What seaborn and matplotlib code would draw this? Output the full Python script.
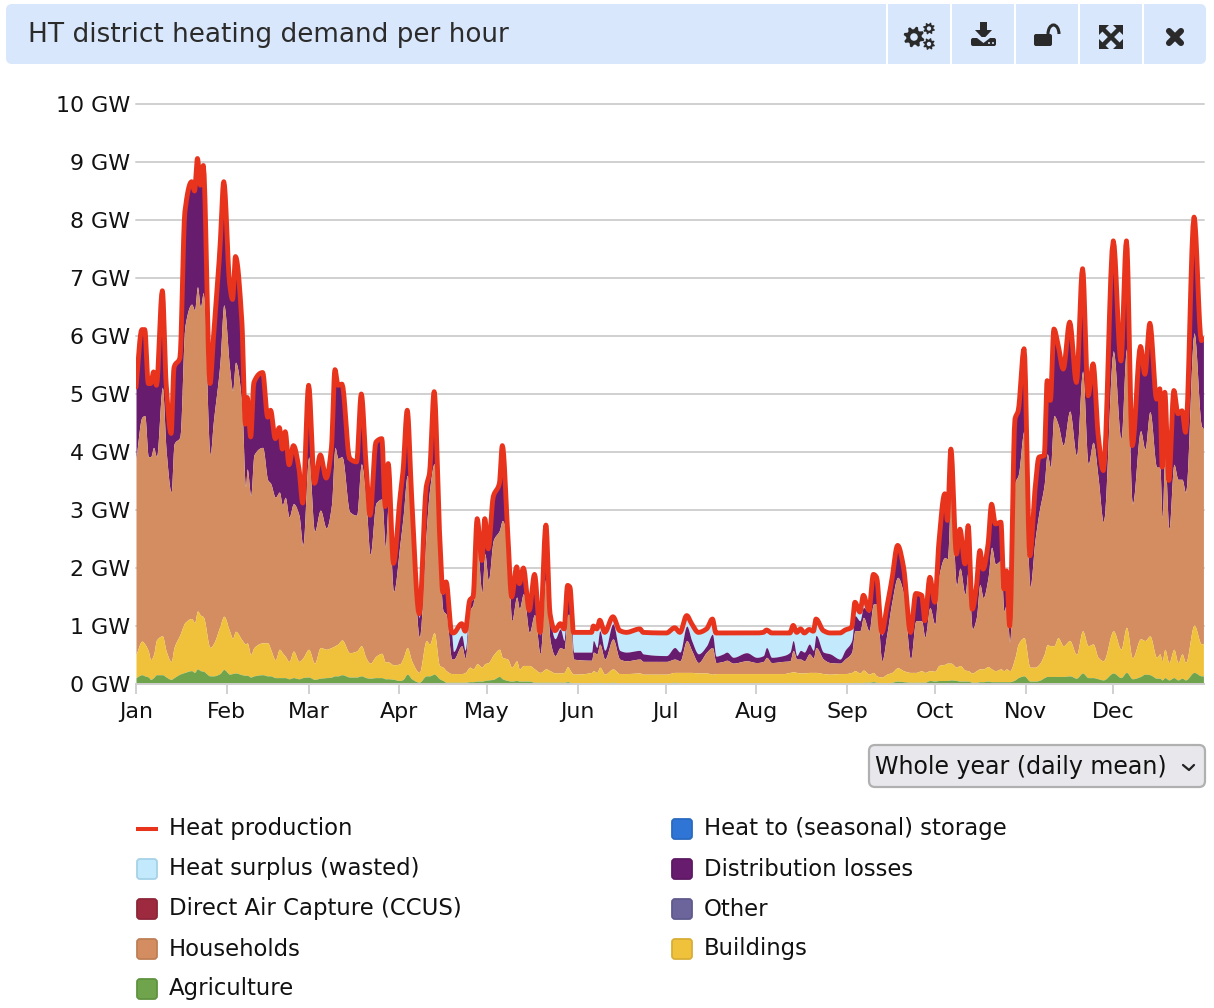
import numpy as np
import seaborn as sns
import matplotlib
matplotlib.use("Agg")
import matplotlib.pyplot as plt
from matplotlib.patches import FancyBboxPatch, Polygon, Rectangle, Circle, Arc

TITLE = "HT district heating demand per hour"
MONTHS = ["Jan", "Feb", "Mar", "Apr", "May", "Jun", "Jul", "Aug", "Sep", "Oct", "Nov", "Dec"]
MONTH_DAYS = [0, 31, 59, 90, 120, 151, 181, 212, 243, 273, 304, 334]
Y_TICKS = [0, 1, 2, 3, 4, 5, 6, 7, 8, 9, 10]

days = [
    0,2,3,4.2,5,6,7,9,10.3,12,
    13,15,16.7,19,20,21,22,23,25.3,26.4,
    28.7,30,32,33,34,36.2,37.4,38,39.2,40.3,
    43.3,45,46,47.6,49,50,51,52.3,53.8,55.7,
    57,59,61,63,65,66.8,68,69,70.4,73,
    75.4,77,78.6,80,82,84,85.2,86.2,88,90.2,
    91.3,
    92.7,94.2,96.8,99.2,100.3,101.9,103.7,104.9,106,107.9,
    108.5,111.3,112.5,114.1,115.2,116.6,118.2,119.2,120.4,122.1,
    124.2,125.2,127,128.4,130.1,131,132.4,134.4,136.2,138.1,
    140.1,141.5,143.2,145,146.3,147.5,148.3,149.5,155.7,156.3,
    157.5,158.5,160.2,163,165.3,167.6,172.2,173.3,181.3,184.1,
    185.9,
    188.2,189.9,192.2,195,197,198.2,200.7,201.9,204.1,208.7,
    212.1,214.4,215.5,217.2,221.2,223.5,224.6,225.8,227.1,228.4,
    230.1,231.5,232.4,234.9,237.2,240.6,242.3,244.6,245.7,247.4,
    248.6,250.5,252,253.1,254.9,256.6,258.3,260.3,262.3,264.7,
    266.5,268.5,269.6,
    271.3,273,274.4,276.4,277.3,278.5,280.4,281.6,283.3,284.4,
    285.8,287.2,288.4,289.5,291.2,292.4,293.7,295.6,296.6,297.5,
    298.6,300.4,301.5,303.5,305.5,307.2,308.6,310.4,311.4,312.5,
    313.7,315.1,316.9,319.1,321.4,323.5,325.4,327.1,328.8,330.6,
    334,336.6,338.5,340.5,343.3,344.8,346.5,348.8,349.9,350.7,
    351.6,353,354.7,356.1,357.5,358.7,361.6,364.1,364.8,
]

heat_production = [
    5.12,6.11,6.11,5.18,5.18,5.38,5.15,6.78,5.18,4.32,
    5.46,5.62,8.14,8.66,8.5,9.06,8.6,8.94,5.18,5.92,
    7.52,8.66,6.9,6.63,7.37,6.23,4.48,4.94,4.26,5.2,
    5.37,4.6,4.72,4.23,4.42,4.05,4.35,3.78,4.11,3.71,
    3.12,5.15,3.46,3.95,3.55,4.08,5.42,5.15,5.17,3.89,
    3.83,5.0,3.8,2.91,4.17,4.23,3.06,3.8,2.08,3.2,
    3.7,
    4.72,3.23,1.21,3.4,3.63,5.04,2.65,1.58,1.76,.89,
    .88,1.04,.91,1.45,1.5,2.85,2.13,2.85,2.33,3.23,
    3.46,4.11,2.65,1.5,2.02,1.73,2.0,1.27,1.89,.89,
    2.74,1.21,.92,1.04,.95,1.7,1.67,.89,.89,1.0,
    .95,1.1,.89,1.16,.92,.89,.95,.89,.88,.97,
    .89,
    1.18,1.04,.89,.95,1.12,.88,.88,.88,.88,.88,
    .88,.89,.93,.88,.88,.88,1.01,.89,.95,.88,
    .94,.91,1.12,.92,.88,.88,.93,.98,1.41,1.24,
    1.53,1.27,1.89,1.84,.89,1.32,1.79,2.39,2.02,.89,
    1.56,1.53,1.09,
    1.84,1.41,2.44,3.28,2.82,4.05,2.24,2.67,2.07,2.73,
    1.29,1.67,2.3,1.98,2.41,3.1,2.76,2.79,1.64,1.95,
    1.0,4.57,4.71,5.78,2.21,3.33,3.91,3.94,5.23,4.89,
    6.12,5.86,5.43,6.24,5.2,7.16,4.97,5.52,4.31,3.68,
    7.64,5.57,7.64,4.11,5.82,5.34,6.22,4.91,5.09,3.74,
    5.03,3.51,5.06,4.66,4.71,4.34,8.05,5.92,5.95,
]

heat_surplus = [
    0,0,0,0,0,0,0,0,0,0,
    0,0,0,0,0,0,0,0,0,0,
    0,0,0,0,0,0,0,0,0,0,
    0,0,0,0,0,0,0,0,0,0,
    0,0,0,0,0,0,0,0,0,0,
    0,0,0,0,0,0,0,0,0,0,
    0,
    0,0,.07,0,0,0,0,.03,.16,.03,
    .32,.2,.33,.04,.03,0,0,0,0,0,
    0,0,0,0,0,0,0,.03,0,.05,
    0,.06,.14,.09,.2,0,0,.34,.34,.25,
    .32,.18,.31,.12,.34,.34,.37,.37,.39,.34,
    .34,
    .18,.29,.37,.29,.26,.4,.36,.33,.42,.34,
    .42,.4,.3,.42,.39,.33,.26,.4,.37,.33,
    .25,.33,.28,.37,.36,.45,.35,.23,.23,.15,
    .21,.03,0,0,.05,0,0,0,0,.03,
    0,0,.03,
    0,0,0,0,0,0,0,0,0,0,
    0,0,0,0,0,0,0,0,0,0,
    0,0,0,0,0,0,0,0,0,0,
    0,0,0,0,0,0,0,0,0,0,
    0,0,0,0,0,0,0,0,0,0,
    0,0,0,0,0,0,0,0,0,
]

households_top = [
    3.89,4.6,4.63,3.92,3.92,4.08,3.92,5.12,4.02,3.31,
    4.14,4.26,6.17,6.55,6.45,6.85,6.5,6.75,3.95,4.51,
    5.55,6.54,5.43,5.06,5.55,4.78,3.4,3.71,3.25,3.95,
    4.08,3.52,3.46,3.22,3.31,3.09,3.22,2.88,3.11,2.91,
    2.39,3.92,2.63,3.0,2.69,3.09,4.08,3.89,3.92,2.97,
    2.91,3.8,3.15,2.23,3.12,3.19,2.36,3.09,1.59,2.42,
    2.9,
    3.6,2.9,.8,2.65,3.34,3.8,2.25,1.27,1.2,.43,
    .43,.66,.45,1.27,1.38,2.36,1.58,2.25,1.79,2.48,
    2.65,2.82,2.42,1.09,1.5,1.3,1.56,.89,1.2,.52,
    1.84,.75,.49,.63,.6,1.2,1.2,.43,.41,.55,
    .52,.69,.43,.78,.43,.4,.43,.39,.39,.43,
    .40,
    .75,.58,.37,.55,.63,.37,.39,.41,.36,.40,
    .37,.39,.46,.37,.39,.40,.58,.43,.43,.40,
    .52,.45,.63,.43,.37,.36,.43,.55,.92,.92,
    1.15,.92,1.38,1.38,.4,.86,1.41,1.84,1.56,.43,
    1.09,1.09,.81,
    1.32,1.03,1.87,2.18,2.16,3.28,1.7,2.0,1.55,1.95,
    .95,1.15,1.72,1.49,1.84,2.36,2.07,2.13,1.26,1.38,
    .72,3.48,3.6,4.37,1.67,2.47,2.96,3.45,3.97,3.74,
    4.63,4.48,4.12,4.71,3.94,5.4,3.79,4.17,3.56,2.79,
    5.75,4.22,5.78,3.1,4.37,4.05,4.7,3.74,3.74,2.87,
    3.97,2.67,3.79,3.53,3.53,3.3,6.06,4.45,4.4,
]

buildings_top = [
    .51,.74,.69,.57,.42,.51,.76,.83,.57,.39,
    .63,.85,1.06,1.13,1.06,1.26,1.19,1.16,.63,.69,
    1.0,1.17,.91,.79,.91,.76,.69,.71,.51,.63,
    .71,.71,.6,.42,.6,.54,.48,.39,.57,.39,
    .45,.6,.36,.63,.6,.63,.66,.69,.76,.54,
    .57,.66,.45,.36,.48,.53,.38,.38,.33,.35,
    .45,
    .63,.4,.2,.75,.69,.89,.32,.29,.23,.18,
    .18,.18,.2,.29,.26,.35,.29,.35,.37,.5,
    .6,.46,.43,.29,.4,.26,.32,.32,.26,.2,
    .26,.23,.19,.19,.2,.3,.24,.17,.2,.23,
    .2,.29,.17,.26,.18,.18,.19,.17,.17,.2,
    .2,
    .2,.2,.19,.19,.17,.18,.18,.18,.18,.18,
    .18,.18,.18,.18,.18,.2,.21,.2,.19,.19,
    .2,.2,.2,.18,.17,.18,.18,.2,.23,.19,
    .24,.17,.2,.14,.12,.17,.2,.28,.23,.2,
    .2,.23,.2,
    .23,.22,.32,.34,.36,.36,.29,.32,.24,.23,
    .19,.23,.26,.26,.3,.26,.23,.26,.23,.26,
    .23,.46,.69,.8,.29,.29,.34,.52,.68,.66,
    .66,.8,.66,.75,.51,.92,.66,.69,.46,.4,
    .92,.6,.98,.45,.78,.75,.83,.46,.52,.4,
    .6,.37,.6,.37,.52,.37,1.02,.69,.7,
]

agriculture_top = [
    .11,.16,.14,.12,.08,.11,.16,.16,.12,.08,
    .11,.17,.2,.23,.2,.26,.23,.22,.14,.14,
    .18,.25,.17,.18,.19,.16,.15,.15,.12,.14,
    .16,.14,.14,.11,.11,.11,.11,.09,.11,.09,
    .11,.12,.08,.1,.11,.12,.14,.14,.16,.12,
    .12,.14,.11,.1,.11,.11,.09,.09,.08,.06,
    .08,
    .17,.09,.03,.14,.14,.17,.09,.06,.03,.03,
    .03,.03,.03,.04,.04,.05,.05,.06,.07,.08,
    .13,.09,.06,.05,.06,.05,.05,.05,.03,.03,
    .03,.03,.03,.03,.03,.04,.03,.01,.02,.03,
    .02,.03,.02,.03,.02,.02,.02,.02,.02,.03,
    .02,
    .02,.02,.02,.02,.02,.02,.02,.02,.02,.02,
    .02,.02,.02,.02,.02,.02,.03,.02,.02,.02,
    .02,.02,.02,.02,.02,.02,.02,.02,.03,.02,
    .03,.03,.04,.03,.02,.02,.03,.05,.04,.03,
    .03,.03,.03,
    .06,.05,.06,.06,.06,.07,.06,.05,.05,.05,
    .03,.03,.04,.04,.05,.04,.04,.04,.04,.04,
    .04,.07,.11,.14,.05,.05,.06,.11,.13,.13,
    .13,.13,.13,.14,.1,.19,.11,.11,.09,.07,
    .19,.11,.2,.09,.13,.17,.16,.1,.1,.07,
    .11,.07,.11,.07,.1,.07,.2,.14,.14,
]

LEGEND_LEFT = ["Heat production", "Heat surplus (wasted)", "Direct Air Capture (CCUS)", "Households", "Agriculture"]
LEGEND_RIGHT = ["Heat to (seasonal) storage", "Distribution losses", "Other", "Buildings"]
COL = {"Heat production": "#E8341C", "Heat surplus (wasted)": "#C3E9FC", "Direct Air Capture (CCUS)": "#9E2A3F",
       "Households": "#D38D60", "Agriculture": "#6FA34C", "Heat to (seasonal) storage": "#2E75D6",
       "Distribution losses": "#681C6E", "Other": "#6C659C", "Buildings": "#F0C23C"}
EDGE = {"Heat surplus (wasted)": "#A6D2E8", "Direct Air Capture (CCUS)": "#8E2539", "Households": "#BF7F56",
        "Agriculture": "#5F9340", "Heat to (seasonal) storage": "#2969C0", "Distribution losses": "#5D1963",
        "Other": "#5F5A8C", "Buildings": "#D8AE36"}


def monotone_curve(xs, ys, per_seg=8):
    """Draw-time curve through the read points, like the chart's monotone area paths."""
    xs, ys = np.asarray(xs, float), np.asarray(ys, float)
    h = np.diff(xs)
    s = np.diff(ys) / h
    m = np.zeros_like(ys)
    m[0], m[-1] = s[0], s[-1]
    for i in range(1, len(xs) - 1):
        if s[i - 1] * s[i] > 0:
            w1, w2 = 2 * h[i] + h[i - 1], h[i] + 2 * h[i - 1]
            m[i] = (w1 + w2) / (w1 / s[i - 1] + w2 / s[i])
    t = np.linspace(0, 1, per_seg, endpoint=False)[None, :]
    hh, x0, y0, y1 = h[:, None], xs[:-1, None], ys[:-1, None], ys[1:, None]
    m0, m1 = m[:-1, None], m[1:, None]
    yy = ((2 * t**3 - 3 * t**2 + 1) * y0 + (t**3 - 2 * t**2 + t) * hh * m0
          + (-2 * t**3 + 3 * t**2) * y1 + (t**3 - t**2) * hh * m1)
    xx = x0 + t * hh
    return np.append(xx.ravel(), xs[-1]), np.append(yy.ravel(), ys[-1])


sns.set_theme(style="white")
FONT = "DejaVu Sans"
plt.rcParams["font.family"] = [FONT]
FS_TICK = 15.9
FS_LEG = 16.4
FS_SEL = 17.1
W, H = 1214, 1008
fig = plt.figure(figsize=(W / 100, H / 100), dpi=100, facecolor="white")

ov = fig.add_axes([0, 0, 1, 1], zorder=0)
ov.set_xlim(0, W); ov.set_ylim(H, 0); ov.axis("off")

ax = fig.add_axes([136 / W, 1 - 684 / H, (1204 - 136) / W, (684 - 104) / H], zorder=2)
ax.patch.set_alpha(0)
P = np.array(heat_production, float)
D = P - np.array(heat_surplus, float)
cx, cP = monotone_curve(days, P)
_, cD = monotone_curve(days, D)
_, cH = monotone_curve(days, households_top)
_, cB = monotone_curve(days, buildings_top)
_, cA = monotone_curve(days, agriculture_top)
ax.fill_between(cx, cD, cP, color=COL["Heat surplus (wasted)"], lw=0, zorder=2)
ax.fill_between(cx, cH, cD, color=COL["Distribution losses"], lw=0, zorder=2)
ax.fill_between(cx, cB, cH, color=COL["Households"], lw=0, zorder=2)
ax.fill_between(cx, cA, cB, color=COL["Buildings"], lw=0, zorder=2)
ax.fill_between(cx, 0, cA, color=COL["Agriculture"], lw=0, zorder=2)
sns.lineplot(x=cx, y=cP, ax=ax, color=COL["Heat production"], lw=3.5, estimator=None, sort=False, zorder=3)
ax.lines[-1].set_solid_joinstyle("round")
ax.set_xlim(0, 365); ax.set_ylim(0, 10)
ax.set_yticks(Y_TICKS); ax.set_yticklabels([f"{v} GW" for v in Y_TICKS], fontsize=FS_TICK, color="#111111")
ax.set_xticks(MONTH_DAYS); ax.set_xticklabels(MONTHS, fontsize=FS_TICK, color="#111111")
ax.grid(axis="y", color="#D0D0D0", lw=1.4, zorder=0)
for gl in ax.get_ygridlines():
    gl.set_clip_on(False)
ax.set_axisbelow(True)
for s in ax.spines.values():
    s.set_visible(False)
ax.spines["bottom"].set_visible(True); ax.spines["bottom"].set_color("#D0D0D0"); ax.spines["bottom"].set_linewidth(1.4)
ax.tick_params(axis="y", length=0, pad=4.5)
ax.tick_params(axis="x", length=7, width=1.4, color="#D0D0D0", pad=6, bottom=True)

# header
HDR = "#D8E7FB"
ov.add_patch(FancyBboxPatch((6, 4), 1200, 60, boxstyle="round,pad=0,rounding_size=6", fc=HDR, ec="none"))
for xd in [886, 950, 1014, 1078, 1142]:
    ov.add_patch(Rectangle((xd, 4), 2, 60, fc="white", ec="none"))
ov.text(28, 35, TITLE, fontsize=18.9, color="#2b2b2b", va="center", ha="left")
ICON = "#2a2a2a"
def gear(cxx, cyy, r, teeth=8):
    a = np.linspace(0, 2 * np.pi, teeth * 4, endpoint=False) + np.pi / 8 - np.pi / 16
    rad = np.tile([r, r, r * 0.74, r * 0.74], teeth)
    ov.add_patch(Polygon(np.c_[cxx + rad * np.cos(a), cyy + rad * np.sin(a)], fc=ICON, ec="none"))
    ov.add_patch(Circle((cxx, cyy), r * 0.36, fc=HDR, ec="none"))
gear(914, 37, 10.5)
gear(929, 28.5, 6)
gear(929, 44, 6)
# download
ov.add_patch(Polygon([(980, 22), (987, 22), (987, 30), (992, 30), (983.5, 39), (975, 30), (980, 30)], fc=ICON, ec="none"))
ov.add_patch(FancyBboxPatch((971, 38), 25, 8, boxstyle="round,pad=0,rounding_size=2", fc=ICON, ec="none"))
ov.add_patch(Polygon([(971, 38), (977, 38), (983.5, 43), (990, 38), (996, 38), (996, 37), (971, 37)], fc=HDR, ec="none"))
ov.add_patch(Circle((989, 43), 1, fc=HDR, ec="none")); ov.add_patch(Circle((993, 43), 1, fc=HDR, ec="none"))
# lock
ov.add_patch(FancyBboxPatch((1034, 34), 18, 12, boxstyle="round,pad=0,rounding_size=2", fc=ICON, ec="none"))
ov.add_patch(Arc((1053.5, 34), 11, 18, theta1=180, theta2=360, ec=ICON, lw=2.2))
# expand
ov.plot([1103, 1119], [29, 45], color=ICON, lw=3.2); ov.plot([1103, 1119], [45, 29], color=ICON, lw=3.2)
for sx, sy in [(1099, 25), (1123, 25), (1099, 49), (1123, 49)]:
    dx = 1 if sx < 1111 else -1; dy = 1 if sy < 37 else -1
    ov.add_patch(Polygon([(sx, sy), (sx + 10 * dx, sy), (sx, sy + 10 * dy)], fc=ICON, ec="none"))
# close
ov.plot([1169, 1181], [31, 43], color=ICON, lw=4.4, solid_capstyle="round")
ov.plot([1169, 1181], [43, 31], color=ICON, lw=4.4, solid_capstyle="round")

# select
ov.add_patch(FancyBboxPatch((869, 745), 336, 42, boxstyle="round,pad=0,rounding_size=6", fc="#E8E8EC", ec="#B0B0B0", lw=1.6))
ov.text(875, 767, "Whole year (daily mean)", fontsize=FS_SEL, color="#111111", va="center", ha="left")
ov.plot([1183, 1189, 1194], [765, 770, 765], color="#222222", lw=1.6)

# legend
ROWS = [829, 869, 909, 949, 989]
ov.plot([136, 158], [829, 829], color=COL["Heat production"], lw=2.9, solid_capstyle="butt")
ov.text(169, 829, LEGEND_LEFT[0], fontsize=FS_LEG, va="center", color="#111111")
for name, y in zip(LEGEND_LEFT[1:], ROWS[1:]):
    ov.add_patch(FancyBboxPatch((137, y - 10), 20, 20, boxstyle="round,pad=0,rounding_size=3", fc=COL[name], ec=EDGE[name], lw=1.3))
    ov.text(169, y, name, fontsize=FS_LEG, va="center", color="#111111")
for name, y in zip(LEGEND_RIGHT, ROWS):
    ov.add_patch(FancyBboxPatch((672, y - 10), 20, 20, boxstyle="round,pad=0,rounding_size=3", fc=COL[name], ec=EDGE[name], lw=1.3))
    ov.text(704, y, name, fontsize=FS_LEG, va="center", color="#111111")

fig.savefig("out.png", dpi=100, facecolor="white")
